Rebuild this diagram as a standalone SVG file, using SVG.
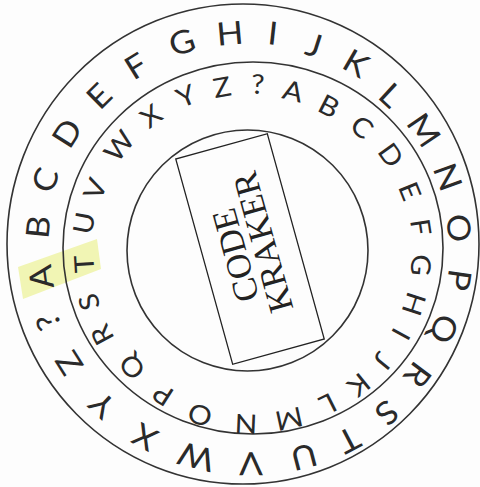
<svg xmlns="http://www.w3.org/2000/svg" width="480" height="487" viewBox="0 0 480 487">
<style>
.ring{fill:none;stroke:#333;stroke-width:1.6}
.o{font-family:Lato,"Open Sans","DejaVu Sans",sans-serif;font-size:32px;fill:#2a2a2a;text-anchor:middle}
.i{font-family:Lato,"Open Sans","DejaVu Sans",sans-serif;font-size:27px;fill:#2a2a2a;text-anchor:middle}
.t{font-family:"Liberation Serif","Times New Roman",serif;font-size:35px;fill:#222;text-anchor:middle}
</style>
<rect width="480" height="487" fill="#fdfdfd"/>
<polygon id="highlight" points="18,267 97,239 101,269 23,299" fill="#f1f5b4"/>
<g id="rings">
<ellipse class="ring" cx="243" cy="244" rx="236" ry="240"/>
<ellipse class="ring" cx="253" cy="248" rx="190" ry="186"/>
<circle class="ring" cx="247.5" cy="250.5" r="120.5"/>
</g>
<g id="outer-ring">
<text class="o" dy=".36em" transform="translate(41,277) rotate(-97.7) scale(1.1,1)">A</text>
<text class="o" dy=".36em" transform="translate(38,227) rotate(-84) scale(1.1,1)">B</text>
<text class="o" dy=".36em" transform="translate(45,180) rotate(-71.3) scale(1.1,1)">C</text>
<text class="o" dy=".36em" transform="translate(67,133) rotate(-57.5) scale(1.1,1)">D</text>
<text class="o" dy=".36em" transform="translate(99,96) rotate(-44.4) scale(1.1,1)">E</text>
<text class="o" dy=".36em" transform="translate(136,66) rotate(-31.7) scale(1.1,1)">F</text>
<text class="o" dy=".36em" transform="translate(182,42) rotate(-17.9) scale(1.1,1)">G</text>
<text class="o" dy=".36em" transform="translate(230,33) rotate(-5) scale(1.1,1)">H</text>
<text class="o" dy=".36em" transform="translate(273,33) rotate(6.3) scale(1.1,1)">I</text>
<text class="o" dy=".36em" transform="translate(314,45) rotate(17.6) scale(1.1,1)">J</text>
<text class="o" dy=".36em" transform="translate(356,63) rotate(30) scale(1.1,1)">K</text>
<text class="o" dy=".36em" transform="translate(391,95) rotate(42.7) scale(1.1,1)">L</text>
<text class="o" dy=".36em" transform="translate(424,130) rotate(55.9) scale(1.1,1)">M</text>
<text class="o" dy=".36em" transform="translate(448,177) rotate(70) scale(1.1,1)">N</text>
<text class="o" dy=".36em" transform="translate(459,228) rotate(84.9) scale(1.1,1)">O</text>
<text class="o" dy=".36em" transform="translate(459,280) rotate(98.6) scale(1.1,1)">P</text>
<text class="o" dy=".36em" transform="translate(444,329) rotate(112.3) scale(1.1,1)">Q</text>
<text class="o" dy=".36em" transform="translate(418,375) rotate(126.8) scale(1.1,1)">R</text>
<text class="o" dy=".36em" transform="translate(387,413) rotate(139.9) scale(1.1,1)">S</text>
<text class="o" dy=".36em" transform="translate(349,440) rotate(152.4) scale(1.1,1)">T</text>
<text class="o" dy=".36em" transform="translate(304,457) rotate(165.3) scale(1.1,1)">U</text>
<text class="o" dy=".36em" transform="translate(251,464) rotate(179.5) scale(1.1,1)">V</text>
<text class="o" dy=".36em" transform="translate(196,457) rotate(194.2) scale(1.1,1)">W</text>
<text class="o" dy=".36em" transform="translate(145,437) rotate(209) scale(1.1,1)">X</text>
<text class="o" dy=".36em" transform="translate(102,405) rotate(223.3) scale(1.1,1)">Y</text>
<text class="o" dy=".36em" transform="translate(69,363) rotate(237.6) scale(1.1,1)">Z</text>
<text class="o" dy=".36em" transform="translate(48,322) rotate(250.1) scale(1.1,1)">?</text>
</g>
<g id="inner-ring">
<text class="i" dy=".36em" transform="translate(84,264) rotate(266.6) scale(1.1,1)">T</text>
<text class="i" dy=".36em" transform="translate(84,223) rotate(280.4) scale(1.1,1)">U</text>
<text class="i" dy=".36em" transform="translate(95,189) rotate(292.4) scale(1.1,1)">V</text>
<text class="i" dy=".36em" transform="translate(119,146) rotate(308.9) scale(1.1,1)">W</text>
<text class="i" dy=".36em" transform="translate(151,116) rotate(323.5) scale(1.1,1)">X</text>
<text class="i" dy=".36em" transform="translate(186,96) rotate(337) scale(1.1,1)">Y</text>
<text class="i" dy=".36em" transform="translate(222,87) rotate(349.5) scale(1.1,1)">Z</text>
<text class="i" dy=".36em" transform="translate(258,84) rotate(1.7) scale(1.1,1)">?</text>
<text class="i" dy=".36em" transform="translate(293,91) rotate(13.8) scale(1.1,1)">A</text>
<text class="i" dy=".36em" transform="translate(329,106) rotate(27.2) scale(1.1,1)">B</text>
<text class="i" dy=".36em" transform="translate(362,127) rotate(40.6) scale(1.1,1)">C</text>
<text class="i" dy=".36em" transform="translate(391,155) rotate(54.3) scale(1.1,1)">D</text>
<text class="i" dy=".36em" transform="translate(410,191) rotate(68.1) scale(1.1,1)">E</text>
<text class="i" dy=".36em" transform="translate(421,227) rotate(81.3) scale(1.1,1)">F</text>
<text class="i" dy=".36em" transform="translate(421,265) rotate(94.8) scale(1.1,1)">G</text>
<text class="i" dy=".36em" transform="translate(414,304) rotate(107.9) scale(1.1,1)">H</text>
<text class="i" dy=".36em" transform="translate(401,334) rotate(118.7) scale(1.1,1)">I</text>
<text class="i" dy=".36em" transform="translate(383,361) rotate(129.5) scale(1.1,1)">J</text>
<text class="i" dy=".36em" transform="translate(359,385) rotate(141) scale(1.1,1)">K</text>
<text class="i" dy=".36em" transform="translate(328,404) rotate(153.4) scale(1.1,1)">L</text>
<text class="i" dy=".36em" transform="translate(289,419) rotate(167.7) scale(1.1,1)">M</text>
<text class="i" dy=".36em" transform="translate(246,424) rotate(182.4) scale(1.1,1)">N</text>
<text class="i" dy=".36em" transform="translate(200,415) rotate(198.2) scale(1.1,1)">O</text>
<text class="i" dy=".36em" transform="translate(163,395) rotate(212.6) scale(1.1,1)">P</text>
<text class="i" dy=".36em" transform="translate(132,367) rotate(227) scale(1.1,1)">Q</text>
<text class="i" dy=".36em" transform="translate(102,335) rotate(241.8) scale(1.1,1)">R</text>
<text class="i" dy=".36em" transform="translate(89,302) rotate(253.7) scale(1.1,1)">S</text>
</g>
<g id="label" transform="translate(250,249)">
<rect x="-47.5" y="-106.5" width="95" height="213" fill="none" stroke="#222" stroke-width="1.3" transform="rotate(-15.5)"/>
<g transform="rotate(-105.5)">
<text class="t" x="-2" y="-4">CODE</text>
<text class="t" x="3" y="26">KRAKER</text>
</g>
</g>
</svg>
